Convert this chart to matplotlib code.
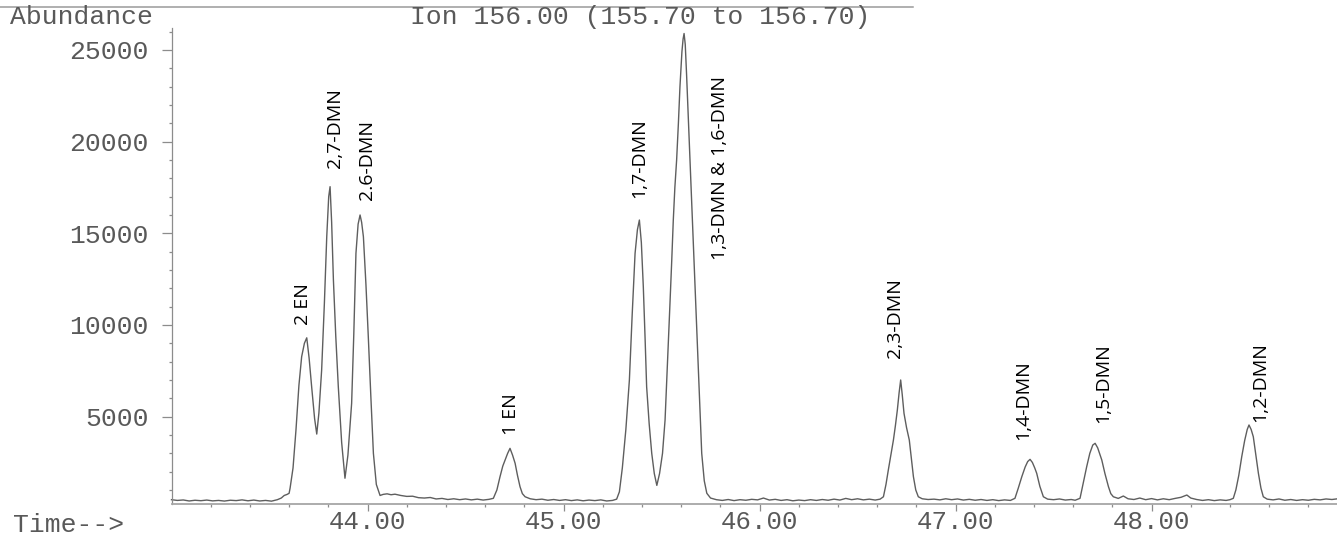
import matplotlib
matplotlib.use("Agg")
import matplotlib.pyplot as plt
from matplotlib.ticker import FixedLocator, MultipleLocator, FuncFormatter
from matplotlib.lines import Line2D

# Total ion trace for m/z 156 (retention time in minutes, abundance in counts)
trace_time = [
    43.00, 43.03, 43.06, 43.09, 43.12, 43.15, 43.18, 43.21, 43.24, 43.27,
    43.30, 43.33, 43.36, 43.39, 43.42, 43.45, 43.48, 43.51, 43.54, 43.56,
    43.575, 43.59, 43.60, 43.605, 43.62, 43.635, 43.650, 43.664, 43.678, 43.690,
    43.702, 43.715, 43.730, 43.741, 43.752, 43.766, 43.780, 43.792, 43.802, 43.809,
    43.817, 43.826, 43.838, 43.851, 43.868, 43.885, 43.900, 43.919, 43.930, 43.941,
    43.952, 43.962, 43.970, 43.979, 43.992, 44.004, 44.017, 44.030, 44.045, 44.064,
    44.08, 44.10, 44.12, 44.14, 44.17, 44.20, 44.23, 44.26, 44.29, 44.32,
    44.35, 44.38, 44.41, 44.44, 44.47, 44.50, 44.53, 44.56, 44.59, 44.62,
    44.642, 44.66, 44.676, 44.690, 44.702, 44.715, 44.727, 44.740, 44.753, 44.765,
    44.778, 44.790, 44.804, 44.83, 44.86, 44.89, 44.92, 44.95, 44.98, 45.01,
    45.04, 45.07, 45.10, 45.13, 45.16, 45.19, 45.22, 45.25, 45.271, 45.285,
    45.300, 45.318, 45.336, 45.350, 45.365, 45.377, 45.387, 45.397, 45.407, 45.416,
    45.424, 45.437, 45.450, 45.463, 45.476, 45.490, 45.505, 45.518, 45.530, 45.543,
    45.552, 45.560, 45.568, 45.577, 45.586, 45.594, 45.604, 45.610, 45.615, 45.621,
    45.628, 45.637, 45.654, 45.671, 45.688, 45.705, 45.718, 45.731, 45.75, 45.78,
    45.81, 45.84, 45.87, 45.90, 45.93, 45.96, 45.99, 46.02, 46.05, 46.08,
    46.11, 46.14, 46.17, 46.20, 46.23, 46.26, 46.29, 46.32, 46.35, 46.38,
    46.41, 46.44, 46.47, 46.50, 46.53, 46.56, 46.59, 46.615, 46.632, 46.645,
    46.657, 46.670, 46.683, 46.693, 46.703, 46.712, 46.720, 46.728, 46.737, 46.750,
    46.764, 46.775, 46.785, 46.797, 46.810, 46.83, 46.86, 46.89, 46.92, 46.95,
    46.98, 47.01, 47.04, 47.07, 47.10, 47.13, 47.16, 47.19, 47.22, 47.25,
    47.28, 47.303, 47.320, 47.338, 47.355, 47.368, 47.380, 47.392, 47.404, 47.414,
    47.430, 47.448, 47.47, 47.50, 47.53, 47.56, 47.59, 47.61, 47.635, 47.650,
    47.669, 47.685, 47.700, 47.712, 47.725, 47.736, 47.746, 47.762, 47.780, 47.792,
    47.805, 47.83, 47.856, 47.88, 47.91, 47.94, 47.97, 48.00, 48.03, 48.06,
    48.09, 48.12, 48.15, 48.18, 48.20, 48.23, 48.26, 48.29, 48.32, 48.35,
    48.38, 48.400, 48.417, 48.430, 48.445, 48.460, 48.475, 48.488, 48.497, 48.508,
    48.519, 48.532, 48.545, 48.558, 48.570, 48.59, 48.62, 48.65, 48.68, 48.71,
    48.74, 48.77, 48.80, 48.83, 48.86, 48.89, 48.92, 48.95,
]
trace_abundance = [
    470, 430, 455, 400, 440, 415, 450, 405, 430, 395,
    440, 420, 460, 410, 450, 400, 430, 390, 470, 560,
    700, 760, 820, 1100, 2200, 4270, 6700, 8270, 9000, 9300,
    8200, 6630, 4900, 4050, 5200, 7545, 11200, 14815, 17000, 17545,
    15600, 12455, 9400, 6630, 3600, 1640, 2900, 5730, 9500, 13910,
    15500, 16000, 15600, 14815, 12200, 9360, 6100, 3000, 1300, 700,
    760, 790, 740, 770, 700, 650, 660, 580, 560, 590,
    510, 540, 480, 520, 470, 510, 460, 500, 450, 490,
    545, 1000, 1725, 2300, 2635, 3000, 3270, 2900, 2455, 1800,
    1180, 800, 630, 520, 470, 500, 440, 480, 430, 470,
    420, 460, 410, 450, 420, 460, 400, 430, 500, 900,
    2200, 4300, 7000, 10500, 13910, 15200, 15725, 14500, 12090, 9300,
    6630, 4600, 3000, 1900, 1250, 1900, 3000, 4815, 7800, 11165,
    13500, 15725, 17500, 19000, 21000, 23000, 24900, 25600, 25900, 25300,
    23600, 21180, 16640, 12090, 7545, 3000, 1500, 820, 560, 470,
    430, 480, 420, 470, 440, 490, 460, 560, 450, 490,
    430, 470, 410, 450, 420, 470, 430, 480, 440, 500,
    450, 540, 470, 520, 460, 500, 450, 500, 630, 1300,
    2090, 2900, 3725, 4500, 5360, 6300, 7000, 6200, 5180, 4400,
    3725, 2700, 1725, 1000, 630, 520, 480, 500, 460, 520,
    470, 510, 450, 490, 440, 480, 430, 470, 420, 460,
    430, 545, 1100, 1725, 2250, 2550, 2670, 2500, 2200, 1910,
    1200, 630, 500, 470, 510, 450, 480, 440, 545, 1300,
    2270, 3000, 3450, 3545, 3300, 2950, 2635, 1900, 1180, 800,
    630, 540, 670, 520, 480, 560, 470, 530, 460, 520,
    470, 540, 600, 725, 560, 480, 430, 470, 420, 460,
    430, 470, 545, 1000, 1800, 2815, 3700, 4300, 4545, 4300,
    3905, 2900, 1910, 1100, 630, 500, 460, 510, 440, 480,
    430, 470, 440, 490, 460, 510, 480, 520,
]

# Compound names written above their peaks
peak_labels = ["2 EN", "2,7-DMN", "2.6-DMN", "1 EN", "1,7-DMN",
               "1,3-DMN & 1,6-DMN", "2,3-DMN", "1,4-DMN", "1,5-DMN", "1,2-DMN"]

# Where each label starts (time, abundance of the label's lower end)
label_anchor_time = [43.671, 43.834, 43.997, 44.732, 45.385,
                     45.798, 46.691, 47.344, 47.752, 48.553]
label_anchor_level = [10000, 18560, 16820, 4000, 16930,
                      13550, 8200, 3730, 4650, 4710]

y_major = [5000, 10000, 15000, 20000, 25000]
x_major = [44.0, 45.0, 46.0, 47.0, 48.0]

W, H = 1337, 536
mono = "Liberation Mono"
grey_text = "#595959"
axis_grey = "#8c8c8c"

fig = plt.figure(figsize=(W / 100, H / 100), dpi=100)
fig.patch.set_facecolor("white")

left_px, right_px, bottom_px, top_px = 171.5, 1337, 504, 28
ax = fig.add_axes([left_px / W, 1 - bottom_px / H,
                   (right_px - left_px) / W, (bottom_px - top_px) / H])

ax.plot(trace_time, trace_abundance, color="#5e5e5e", lw=1.0, clip_on=False,
        solid_joinstyle="round")

ax.set_xlim(43.0, 48.946)
ax.set_ylim(235, 26200)

for side in ("top", "right"):
    ax.spines[side].set_visible(False)
ax.spines["left"].set_color(axis_grey)
ax.spines["left"].set_linewidth(0.9)
ax.spines["bottom"].set_color("#a6a6a6")
ax.spines["bottom"].set_linewidth(1.3)

ax.yaxis.set_major_locator(FixedLocator(y_major))
ax.yaxis.set_minor_locator(MultipleLocator(1000))
ax.yaxis.set_major_formatter(FuncFormatter(lambda v, p: f"{v:.0f}"))
ax.xaxis.set_major_locator(FixedLocator(x_major))
ax.xaxis.set_minor_locator(FixedLocator([43.2 + 0.2 * i for i in range(29)]))
ax.xaxis.set_major_formatter(FuncFormatter(lambda v, p: f"{v:.2f}"))

ax.tick_params(axis="y", which="major", length=7.5, width=0.9, color=axis_grey,
               pad=9, labelsize=19, labelcolor=grey_text)
ax.tick_params(axis="y", which="minor", length=2.5, width=0.9, color=axis_grey)
ax.tick_params(axis="x", which="major", length=5, width=0.9, color=axis_grey,
               pad=-0.5, labelsize=18.5, labelcolor=grey_text)
ax.tick_params(axis="x", which="minor", length=2.5, width=0.9, color=axis_grey)
for lab in ax.get_xticklabels() + ax.get_yticklabels():
    lab.set_family(mono)

# Compound annotations
for name, t, lvl in zip(peak_labels, label_anchor_time, label_anchor_level):
    ax.text(t, lvl, name, rotation=90, ha="center", va="bottom",
            fontsize=14, family="Open Sans", color="black", clip_on=False)

# Header line and captions
fig.add_artist(Line2D([0, 913 / W], [1 - 6.7 / H, 1 - 6.7 / H],
                      color="#9a9a9a", lw=1.1, transform=fig.transFigure))
fig.text(10 / W, 1 - 24 / H, "Abundance", family=mono, fontsize=19,
         color=grey_text, ha="left", va="baseline")
fig.text(410 / W, 1 - 24 / H, "Ion 156.00 (155.70 to 156.70)", family=mono,
         fontsize=19, color=grey_text, ha="left", va="baseline")
fig.text(13 / W, 1 - 532 / H, "Time-->", family=mono, fontsize=19,
         color=grey_text, ha="left", va="baseline")

fig.savefig("out.png", dpi=100, facecolor="white")
